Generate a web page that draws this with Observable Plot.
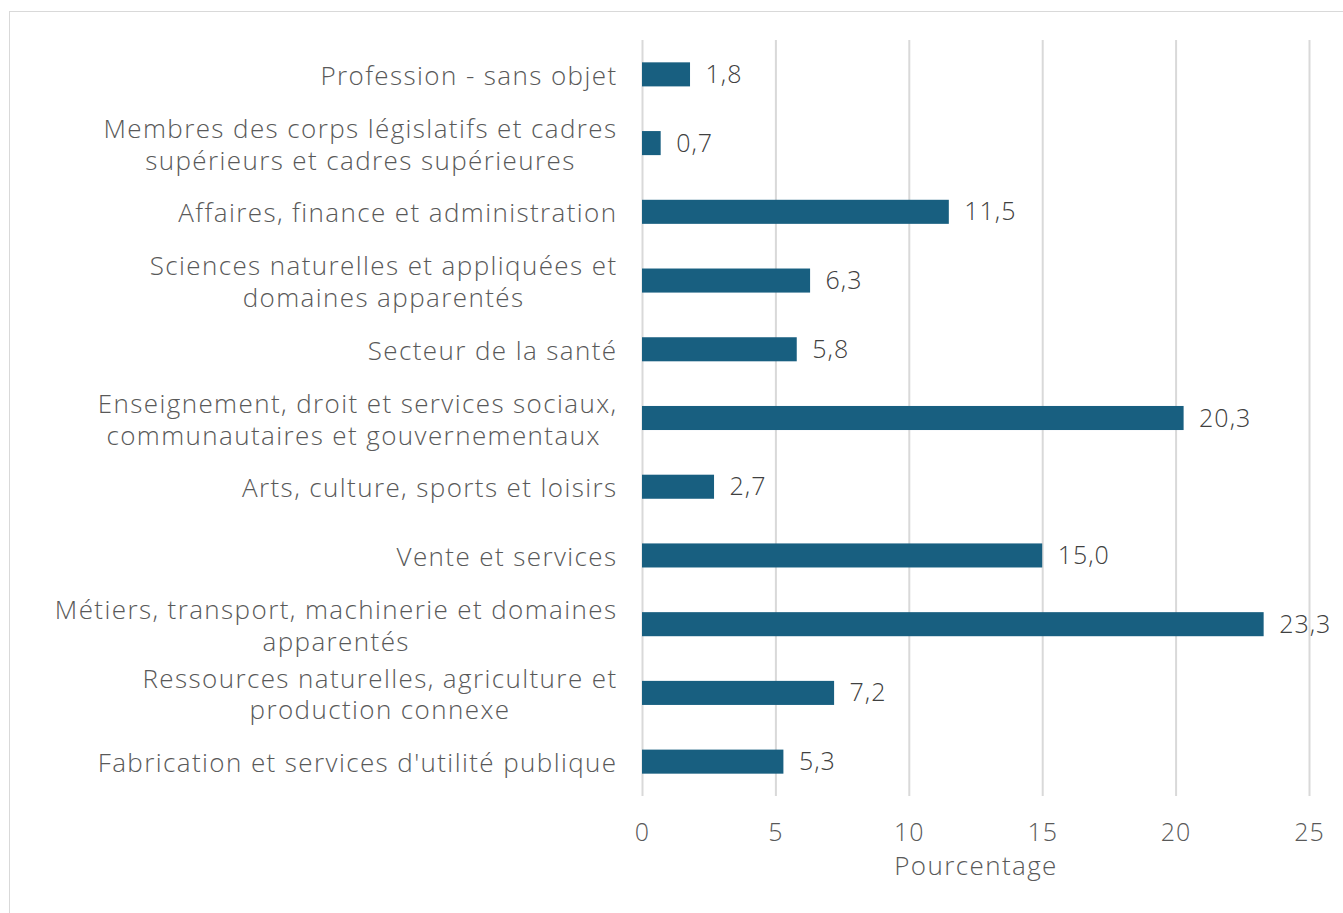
<!DOCTYPE html>
<html>
<head>
<meta charset="utf-8">
<script src="https://cdn.jsdelivr.net/npm/d3@7"></script>
<script src="https://cdn.jsdelivr.net/npm/@observablehq/plot@0.6"></script>
<style>
  html, body { margin: 0; padding: 0; background: #fff; overflow: hidden; width: 1343px; height: 913px; }
  #frame { position: absolute; left: 9px; top: 11px; width: 1400px; height: 1000px; border: 1.5px solid #d9d9d9; box-sizing: border-box; }
  #chart { position: absolute; left: 0; top: 0; }
  #chart svg text { letter-spacing: 1px; }
  #chart svg g.lbl text { letter-spacing: 1.4px; }
</style>
</head>
<body>
<div id="frame"></div>
<div id="chart"></div>
<script>
const categories = [
  "Profession - sans objet",
  "Membres des corps législatifs et cadres\nsupérieurs et cadres supérieures",
  "Affaires, finance et administration",
  "Sciences naturelles et appliquées et\ndomaines apparentés",
  "Secteur de la santé",
  "Enseignement, droit et services sociaux,\ncommunautaires et gouvernementaux\u00a0",
  "Arts, culture, sports et loisirs",
  "Vente et services",
  "Métiers, transport, machinerie et domaines\napparentés",
  "Ressources naturelles, agriculture et\nproduction connexe",
  "Fabrication et services d'utilité publique"
];
const values = [1.8, 0.7, 11.5, 6.3, 5.8, 20.3, 2.7, 15.0, 23.3, 7.2, 5.3];
const xTicks = [0, 5, 10, 15, 20, 25];
const xLabel = "Pourcentage";

const FONT = "Open Sans";
const FS = 26;
const LS = 1.4;
const data = categories.map((c, i) => ({cat: c, value: values[i]}));
const fmt = v => v.toFixed(1).replace(".", ",");

const ctx = document.createElement("canvas").getContext("2d");
ctx.font = `300 ${FS}px "${FONT}"`;
const lineW = l => ctx.measureText(l).width + LS * l.length;
const maxW = s => Math.max(...s.split("\n").map(lineW));

const labelMarks = data.map(d => Plot.text([d], {
  x: () => 0, y: "cat", text: "cat",
  textAnchor: "middle", lineHeight: 1.22,
  dx: -(25 + maxW(d.cat) / 2),
  fill: "#595959", fontSize: FS, fontWeight: 300,
  className: "lbl"
}));

const chart = Plot.plot({
  width: 1343,
  height: 913,
  marginLeft: 642,
  marginRight: 34,
  marginTop: 40,
  marginBottom: 117,
  style: {fontFamily: FONT, fontSize: "25px", fontWeight: 300, background: "transparent", overflow: "visible"},
  x: {domain: [0, 25], ticks: xTicks, label: null},
  y: {domain: categories, paddingInner: 0.65, paddingOuter: 0.325, round: false, axis: null},
  marks: [
    Plot.gridX(xTicks, {stroke: "#d9d9d9", strokeOpacity: 1, strokeWidth: 2}),
    Plot.axisX(xTicks, {tickSize: 0, tickPadding: 27, fontSize: 25, fontWeight: 300, color: "#595959", label: null}),
    Plot.barX(data, {x: "value", y: "cat", fill: "#185f80"}),
    Plot.text(data, {x: "value", y: "cat", text: d => fmt(d.value), textAnchor: "start", dx: 15, fill: "#404040", fontSize: 25, fontWeight: 300}),
    ...labelMarks,
    Plot.text([xLabel], {frameAnchor: "bottom", lineAnchor: "middle", dy: 70, text: d => d, fill: "#595959", fontSize: FS, fontWeight: 300, className: "lbl"})
  ]
});
document.getElementById("chart").appendChild(chart);
</script>
</body>
</html>
